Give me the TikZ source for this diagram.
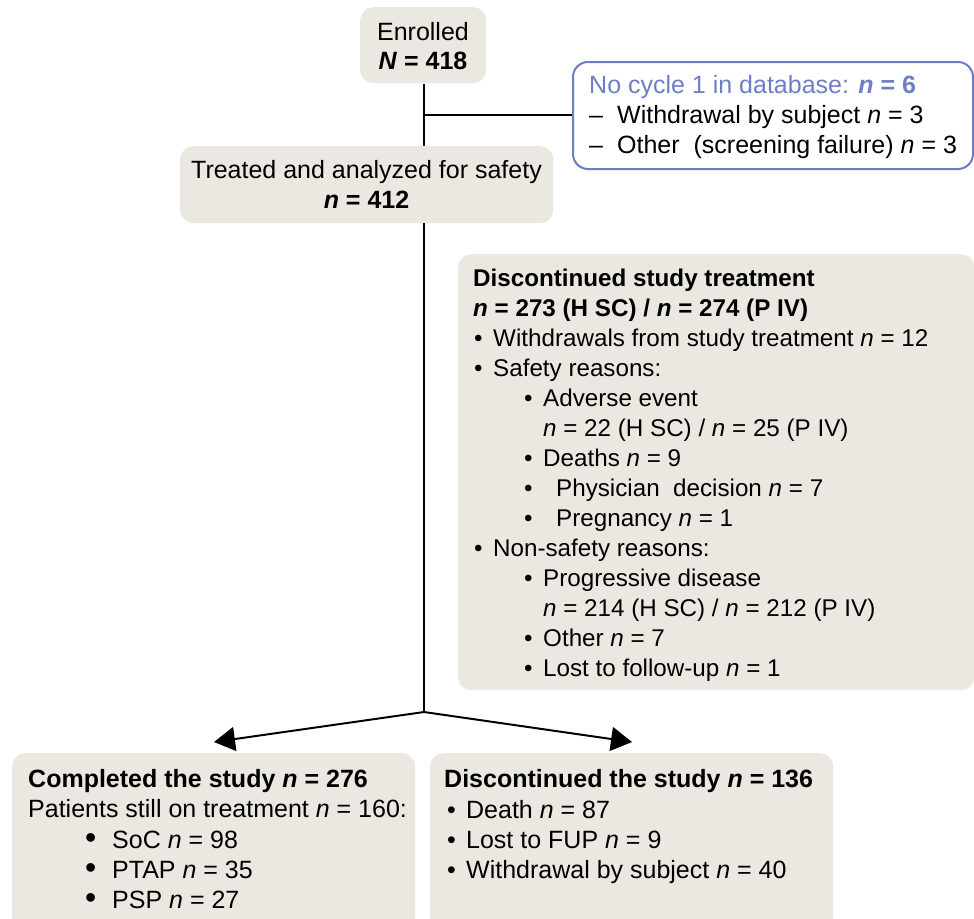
\documentclass[tikz,border=0pt]{standalone}
\usepackage{fontspec}
\setmainfont{Liberation Sans}
\usetikzlibrary{arrows.meta}
\definecolor{boxfill}{HTML}{EBE8E1}
\definecolor{blueline}{HTML}{6E7DC8}
\begin{document}
\begin{tikzpicture}[x=1pt,y=-1pt,
  box/.style={fill=boxfill, draw=none, rounded corners=13pt, inner sep=0pt, anchor=north west},
  bluebox/.style={fill=white, draw=blueline, line width=2pt, rounded corners=15pt, inner sep=0pt, anchor=north west},
  txt/.style={anchor=base west, inner sep=0pt, font=\fontsize{25}{30}\selectfont},
  dtxt/.style={anchor=base west, inner sep=0pt, font=\fontsize{24.2}{30}\selectfont},
  ctxt/.style={anchor=base, inner sep=0pt, font=\fontsize{25}{30}\selectfont},
  conn/.style={line width=2pt},
  arr/.style={line width=2pt, -{Triangle[length=21pt,width=24pt]}}
]
\path[use as bounding box, clip] (0,0) rectangle (974,918);

% boxes
\node[box, minimum width=126pt, minimum height=76pt] (enr) at (360,7) {};
\node[box, minimum width=373pt, minimum height=77pt] (treat) at (180,146) {};
\node[bluebox, minimum width=400pt, minimum height=107pt] (nocyc) at (572,61) {};
\node[box, minimum width=516pt, minimum height=436pt] (disc) at (458,254) {};
\node[box, minimum width=403pt, minimum height=200pt] (compl) at (12,753) {};
\node[box, minimum width=403pt, minimum height=200pt] (discst) at (430,753) {};

% connectors
\coordinate (top) at (424,84);
\coordinate (j1) at (424,115);
\coordinate (j2) at (424,712);
\coordinate (tipL) at (214,742);
\coordinate (tipR) at (632,742);
\draw[conn] (top) -- (top |- treat.north);
\draw[conn] (j1) -- (j1 -| nocyc.west);
\draw[conn] (top |- treat.south) -- (j2);
\draw[arr] (j2) -- (tipL);
\draw[arr] (j2) -- (tipR);

% Enrolled
\node[ctxt] (enr1) at (423,40) {Enrolled};
\node[ctxt] (enr2) at (423,69) {\textbf{\textit{N} = 418}};

% Treated
\node[ctxt] (tr1) at (366.5,178) {Treated and analyzed for safety};
\node[ctxt] (tr2) at (366.5,208) {\textbf{\textit{n} = 412}};

% No cycle box
\node[txt, text=blueline] (nc1) at (589,93) {No cycle 1 in database: \textbf{\textit{n} = 6}};
\node[txt] (nc2) at (589,123) {\makebox[28pt][l]{–}Withdrawal by subject \textit{n} = 3};
\node[txt] (nc3) at (589,153) {\makebox[28pt][l]{–}Other\ \ (screening failure) \textit{n} = 3};

% Discontinued study treatment
\node[dtxt] (d1) at (473,286) {\textbf{Discontinued study treatment}};
\node[dtxt] (d2) at (473,316) {\textbf{\textit{n} = 273 (H SC) / \textit{n} = 274 (P IV)}};
\node[dtxt] (d3) at (473,346) {\makebox[20pt][l]{\hspace{1pt}•}Withdrawals from study treatment \textit{n} = 12};
\node[dtxt] (d4) at (473,376) {\makebox[20pt][l]{\hspace{1pt}•}Safety reasons:};
\node[dtxt] (d5) at (523,406) {\makebox[20pt][l]{\hspace{1pt}•}Adverse event};
\node[dtxt] (d6) at (543,436) {\textit{n} = 22 (H SC) / \textit{n} = 25 (P IV)};
\node[dtxt] (d7) at (523,466) {\makebox[20pt][l]{\hspace{1pt}•}Deaths \textit{n} = 9};
\node[dtxt] (d8) at (523,496) {\makebox[33pt][l]{\hspace{1pt}•}Physician\ \ decision \textit{n} = 7};
\node[dtxt] (d9) at (523,526) {\makebox[33pt][l]{\hspace{1pt}•}Pregnancy \textit{n} = 1};
\node[dtxt] (d10) at (473,556) {\makebox[20pt][l]{\hspace{1pt}•}Non-safety reasons:};
\node[dtxt] (d11) at (523,586) {\makebox[20pt][l]{\hspace{1pt}•}Progressive disease};
\node[dtxt] (d12) at (543,616) {\textit{n} = 214 (H SC) / \textit{n} = 212 (P IV)};
\node[dtxt] (d13) at (523,646) {\makebox[20pt][l]{\hspace{1pt}•}Other \textit{n} = 7};
\node[dtxt] (d14) at (523,676) {\makebox[20pt][l]{\hspace{1pt}•}Lost to follow-up \textit{n} = 1};

% Completed
\node[txt] (c1) at (28,787) {\textbf{Completed the study \textit{n} = 276}};
\node[txt] (c2) at (28,817) {Patients still on treatment \textit{n} = 160:};
\node[txt] (c3) at (85,848) {\makebox[27pt][l]{\fontsize{32}{30}\selectfont•}SoC \textit{n} = 98};
\node[txt] (c4) at (85,878) {\makebox[27pt][l]{\fontsize{32}{30}\selectfont•}PTAP \textit{n} = 35};
\node[txt] (c5) at (85,908) {\makebox[27pt][l]{\fontsize{32}{30}\selectfont•}PSP \textit{n} = 27};

% Discontinued the study
\node[txt] (s1) at (444,787) {\textbf{Discontinued the study \textit{n} = 136}};
\node[txt] (s2) at (446,818) {\makebox[20pt][l]{\hspace{1pt}•}Death \textit{n} = 87};
\node[txt] (s3) at (446,848) {\makebox[20pt][l]{\hspace{1pt}•}Lost to FUP \textit{n} = 9};
\node[txt] (s4) at (446,878) {\makebox[20pt][l]{\hspace{1pt}•}Withdrawal by subject \textit{n} = 40};
\end{tikzpicture}
\end{document}
